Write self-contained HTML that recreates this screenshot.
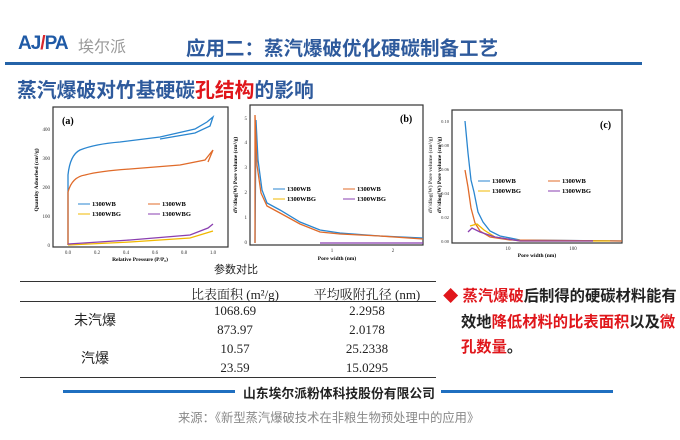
<!DOCTYPE html>
<html><head><meta charset="utf-8"><style>
body{margin:0;width:680px;height:440px;background:#fff;overflow:hidden;position:relative;font-family:"Liberation Sans","Noto Sans CJK SC",sans-serif}
.a{position:absolute;white-space:nowrap}
</style></head><body>
<div class="a" style="left:18px;top:33px;font-size:19px;font-weight:bold;color:#1f5aa6;letter-spacing:-1px">AJ<span style="color:#d8262c">/</span>PA</div>
<div class="a" style="left:78px;top:33px;font-size:16px;color:#999">埃尔派</div>
<div class="a" style="left:186px;top:32px;font-size:19.5px;font-weight:bold;color:#2e5a9c">应用二：蒸汽爆破优化硬碳制备工艺</div>
<div class="a" style="left:5px;top:62px;width:637px;height:3px;background:#2463a8"></div>
<div class="a" style="left:17px;top:74px;font-size:19.8px;font-weight:bold;color:#2e5a9c">蒸汽爆破对竹基硬碳<span style="color:#e0161b">孔结构</span>的影响</div>

<svg class="a" style="left:0;top:100px" width="680" height="170" font-family="Liberation Serif,serif">
<!-- (a) -->
<rect x="53" y="7" width="175" height="140" fill="#fff" stroke="#333" stroke-width="1.2"/>
<text x="62" y="24" font-size="10" font-weight="bold">(a)</text>
<g font-size="5" text-anchor="end" fill="#333"><text x="50" y="147">0</text><text x="50" y="118">100</text><text x="50" y="89">200</text><text x="50" y="60">300</text><text x="50" y="31">400</text></g>
<g font-size="5" text-anchor="middle" fill="#333"><text x="68" y="154">0.0</text><text x="97" y="154">0.2</text><text x="126" y="154">0.4</text><text x="155" y="154">0.6</text><text x="184" y="154">0.8</text><text x="213" y="154">1.0</text></g>
<text x="140" y="161" font-size="5.5" font-weight="bold" text-anchor="middle">Relative Pressure (P/P₀)</text>
<text transform="translate(38,80) rotate(-90)" font-size="5.5" font-weight="bold" text-anchor="middle">Quantity Adsorbed (cm³/g)</text>
<path d="M68,145 L68,75 Q70,55 80,50 Q95,44 120,42 L160,37 L195,29 L207,22 L213,17 L210,26 L195,33 L160,39" fill="none" stroke="#2a86d0" stroke-width="1.3"/>
<path d="M68,145 L68,92 Q72,77 85,75 Q100,71 130,69 L180,65 L205,60 L213,50 L208,62" fill="none" stroke="#e06b2a" stroke-width="1.3"/>
<path d="M68,145 L130,142 L190,138 L213,131" fill="none" stroke="#f0b800" stroke-width="1.3"/>
<path d="M68,144 L130,140 L190,135 L208,128 L213,124" fill="none" stroke="#8a3fb0" stroke-width="1.3"/>
<g font-size="6.5" font-weight="bold"><line x1="78" y1="104" x2="90" y2="104" stroke="#2a86d0"/><text x="92" y="106">1300WB</text><line x1="148" y1="104" x2="160" y2="104" stroke="#e06b2a"/><text x="162" y="106">1300WB</text><line x1="78" y1="114" x2="90" y2="114" stroke="#f0b800"/><text x="92" y="116">1300WBG</text><line x1="148" y1="114" x2="160" y2="114" stroke="#8a3fb0"/><text x="162" y="116">1300WBG</text></g>
<!-- (b) -->
<rect x="250" y="5" width="173" height="140" fill="#fff" stroke="#333" stroke-width="1.2"/>
<text x="400" y="22" font-size="10" font-weight="bold">(b)</text>
<g font-size="5" text-anchor="end" fill="#333"><text x="247" y="144">0</text><text x="247" y="119">1</text><text x="247" y="94">2</text><text x="247" y="69">3</text><text x="247" y="44">4</text><text x="247" y="20">5</text></g>
<g font-size="5" text-anchor="middle" fill="#333"><text x="332" y="152">1</text><text x="393" y="152">2</text></g>
<text x="337" y="160" font-size="5.5" font-weight="bold" text-anchor="middle">Pore width (nm)</text>
<text transform="translate(237,75) rotate(-90)" font-size="5.5" font-weight="bold" text-anchor="middle">dV/dlog(W) Pore volume (cm³/g)</text>
<path d="M255,143 L256,20 L258,60 L262,90 L267,103 L280,110 L300,122 L320,130 L340,133 L380,136 L423,138" fill="none" stroke="#2a86d0" stroke-width="1.3"/>
<path d="M255,143 L255,15 L257,65 L261,93 L267,106 L280,113 L300,124 L320,132 L340,134 L380,136 L423,139" fill="none" stroke="#e06b2a" stroke-width="1.3"/>
<path d="M320,143 L423,143" fill="none" stroke="#8a3fb0" stroke-width="1.3"/>
<g font-size="6.5" font-weight="bold"><line x1="273" y1="89" x2="285" y2="89" stroke="#2a86d0"/><text x="287" y="91">1300WB</text><line x1="343" y1="89" x2="355" y2="89" stroke="#e06b2a"/><text x="357" y="91">1300WB</text><line x1="273" y1="99" x2="285" y2="99" stroke="#f0b800"/><text x="287" y="101">1300WBG</text><line x1="343" y1="99" x2="355" y2="99" stroke="#8a3fb0"/><text x="357" y="101">1300WBG</text></g>
<text transform="translate(432,75) rotate(-90)" font-size="5.5" font-weight="bold" text-anchor="middle" fill="#555">dV/dlog(W) Pore volume (cm³/g)</text>
<!-- (c) -->
<rect x="452" y="10" width="170" height="133" fill="#fff" stroke="#333" stroke-width="1.2"/>
<text x="600" y="28" font-size="10" font-weight="bold">(c)</text>
<g font-size="4.5" text-anchor="end" fill="#333"><text x="449" y="143">0.00</text><text x="449" y="119">0.02</text><text x="449" y="95">0.04</text><text x="449" y="71">0.06</text><text x="449" y="47">0.08</text><text x="449" y="23">0.10</text></g>
<g font-size="5" text-anchor="middle" fill="#333"><text x="508" y="150">10</text><text x="573" y="150">100</text></g>
<text x="537" y="157" font-size="5.5" font-weight="bold" text-anchor="middle">Pore width (nm)</text>
<text transform="translate(441,75) rotate(-90)" font-size="5.5" font-weight="bold" text-anchor="middle">dV/dlog(W) Pore volume (cm³/g)</text>
<path d="M465,21 L468,53 L471,80 L474,92 L478,112 L483,122 L490,131 L500,136 L520,140 L622,141" fill="none" stroke="#2a86d0" stroke-width="1.3"/>
<path d="M465,70 L468,87 L471,108 L475,123 L480,131 L490,137 L510,140 L622,141" fill="none" stroke="#e06b2a" stroke-width="1.3"/>
<path d="M470,126 L477,124 L484,130 L495,137 L520,141 L610,141" fill="none" stroke="#f0b800" stroke-width="1.3"/>
<path d="M468,132 L472,128 L480,132 L495,137 L520,141 L593,141" fill="none" stroke="#8a3fb0" stroke-width="1.3"/>
<g font-size="6.5" font-weight="bold"><line x1="478" y1="81" x2="490" y2="81" stroke="#2a86d0"/><text x="492" y="83">1300WB</text><line x1="548" y1="81" x2="560" y2="81" stroke="#e06b2a"/><text x="562" y="83">1300WB</text><line x1="478" y1="91" x2="490" y2="91" stroke="#f0b800"/><text x="492" y="93">1300WBG</text><line x1="548" y1="91" x2="560" y2="91" stroke="#8a3fb0"/><text x="562" y="93">1300WBG</text></g>
</svg>

<div class="a" style="left:214px;top:261px;font-size:11px;color:#222">参数对比</div>
<div class="a" style="left:20px;top:281px;width:416px;height:1px;background:#333"></div>
<div class="a" style="left:20px;top:301px;width:416px;height:1px;background:#333"></div>
<div class="a" style="left:20px;top:377px;width:416px;height:1px;background:#333"></div>
<div style="font-family:'Liberation Serif','Noto Serif CJK SC',serif;font-size:13px;color:#222">
<div class="a" style="left:175px;top:284px;width:120px;text-align:center">比表面积 (m²/g)</div>
<div class="a" style="left:307px;top:284px;width:120px;text-align:center">平均吸附孔径 (nm)</div>
<div class="a" style="left:195px;top:303px;width:80px;text-align:center">1068.69</div>
<div class="a" style="left:195px;top:322px;width:80px;text-align:center">873.97</div>
<div class="a" style="left:195px;top:341px;width:80px;text-align:center">10.57</div>
<div class="a" style="left:195px;top:360px;width:80px;text-align:center">23.59</div>
<div class="a" style="left:327px;top:303px;width:80px;text-align:center">2.2958</div>
<div class="a" style="left:327px;top:322px;width:80px;text-align:center">2.0178</div>
<div class="a" style="left:327px;top:341px;width:80px;text-align:center">25.2338</div>
<div class="a" style="left:327px;top:360px;width:80px;text-align:center">15.0295</div>
</div>
<div class="a" style="left:74px;top:310px;font-size:14px;color:#222">未汽爆</div>
<div class="a" style="left:81px;top:348px;font-size:14px;color:#222">汽爆</div>
<div class="a" style="left:443px;top:284px;width:240px;font-size:15.3px;font-weight:bold;line-height:25.5px;color:#222;white-space:normal">
<span style="color:#e0161b">◆ 蒸汽爆破</span>后制得的硬碳材料能有<br><span style="padding-left:18px">效地</span><span style="color:#e0161b">降低材料的比表面积</span>以及<span style="color:#e0161b">微</span><br><span style="padding-left:18px;color:#e0161b">孔数量</span>。</div>
<div class="a" style="left:63px;top:390px;width:172px;height:3px;background:#1f6fc0"></div>
<div class="a" style="left:441px;top:390px;width:172px;height:3px;background:#1f6fc0"></div>
<div class="a" style="left:243px;top:383px;font-size:12.8px;font-weight:bold;color:#222">山东埃尔派粉体科技股份有限公司</div>
<div class="a" style="left:178px;top:408px;font-size:12.3px;color:#888">来源：《新型蒸汽爆破技术在非粮生物预处理中的应用》</div>
</body></html>
